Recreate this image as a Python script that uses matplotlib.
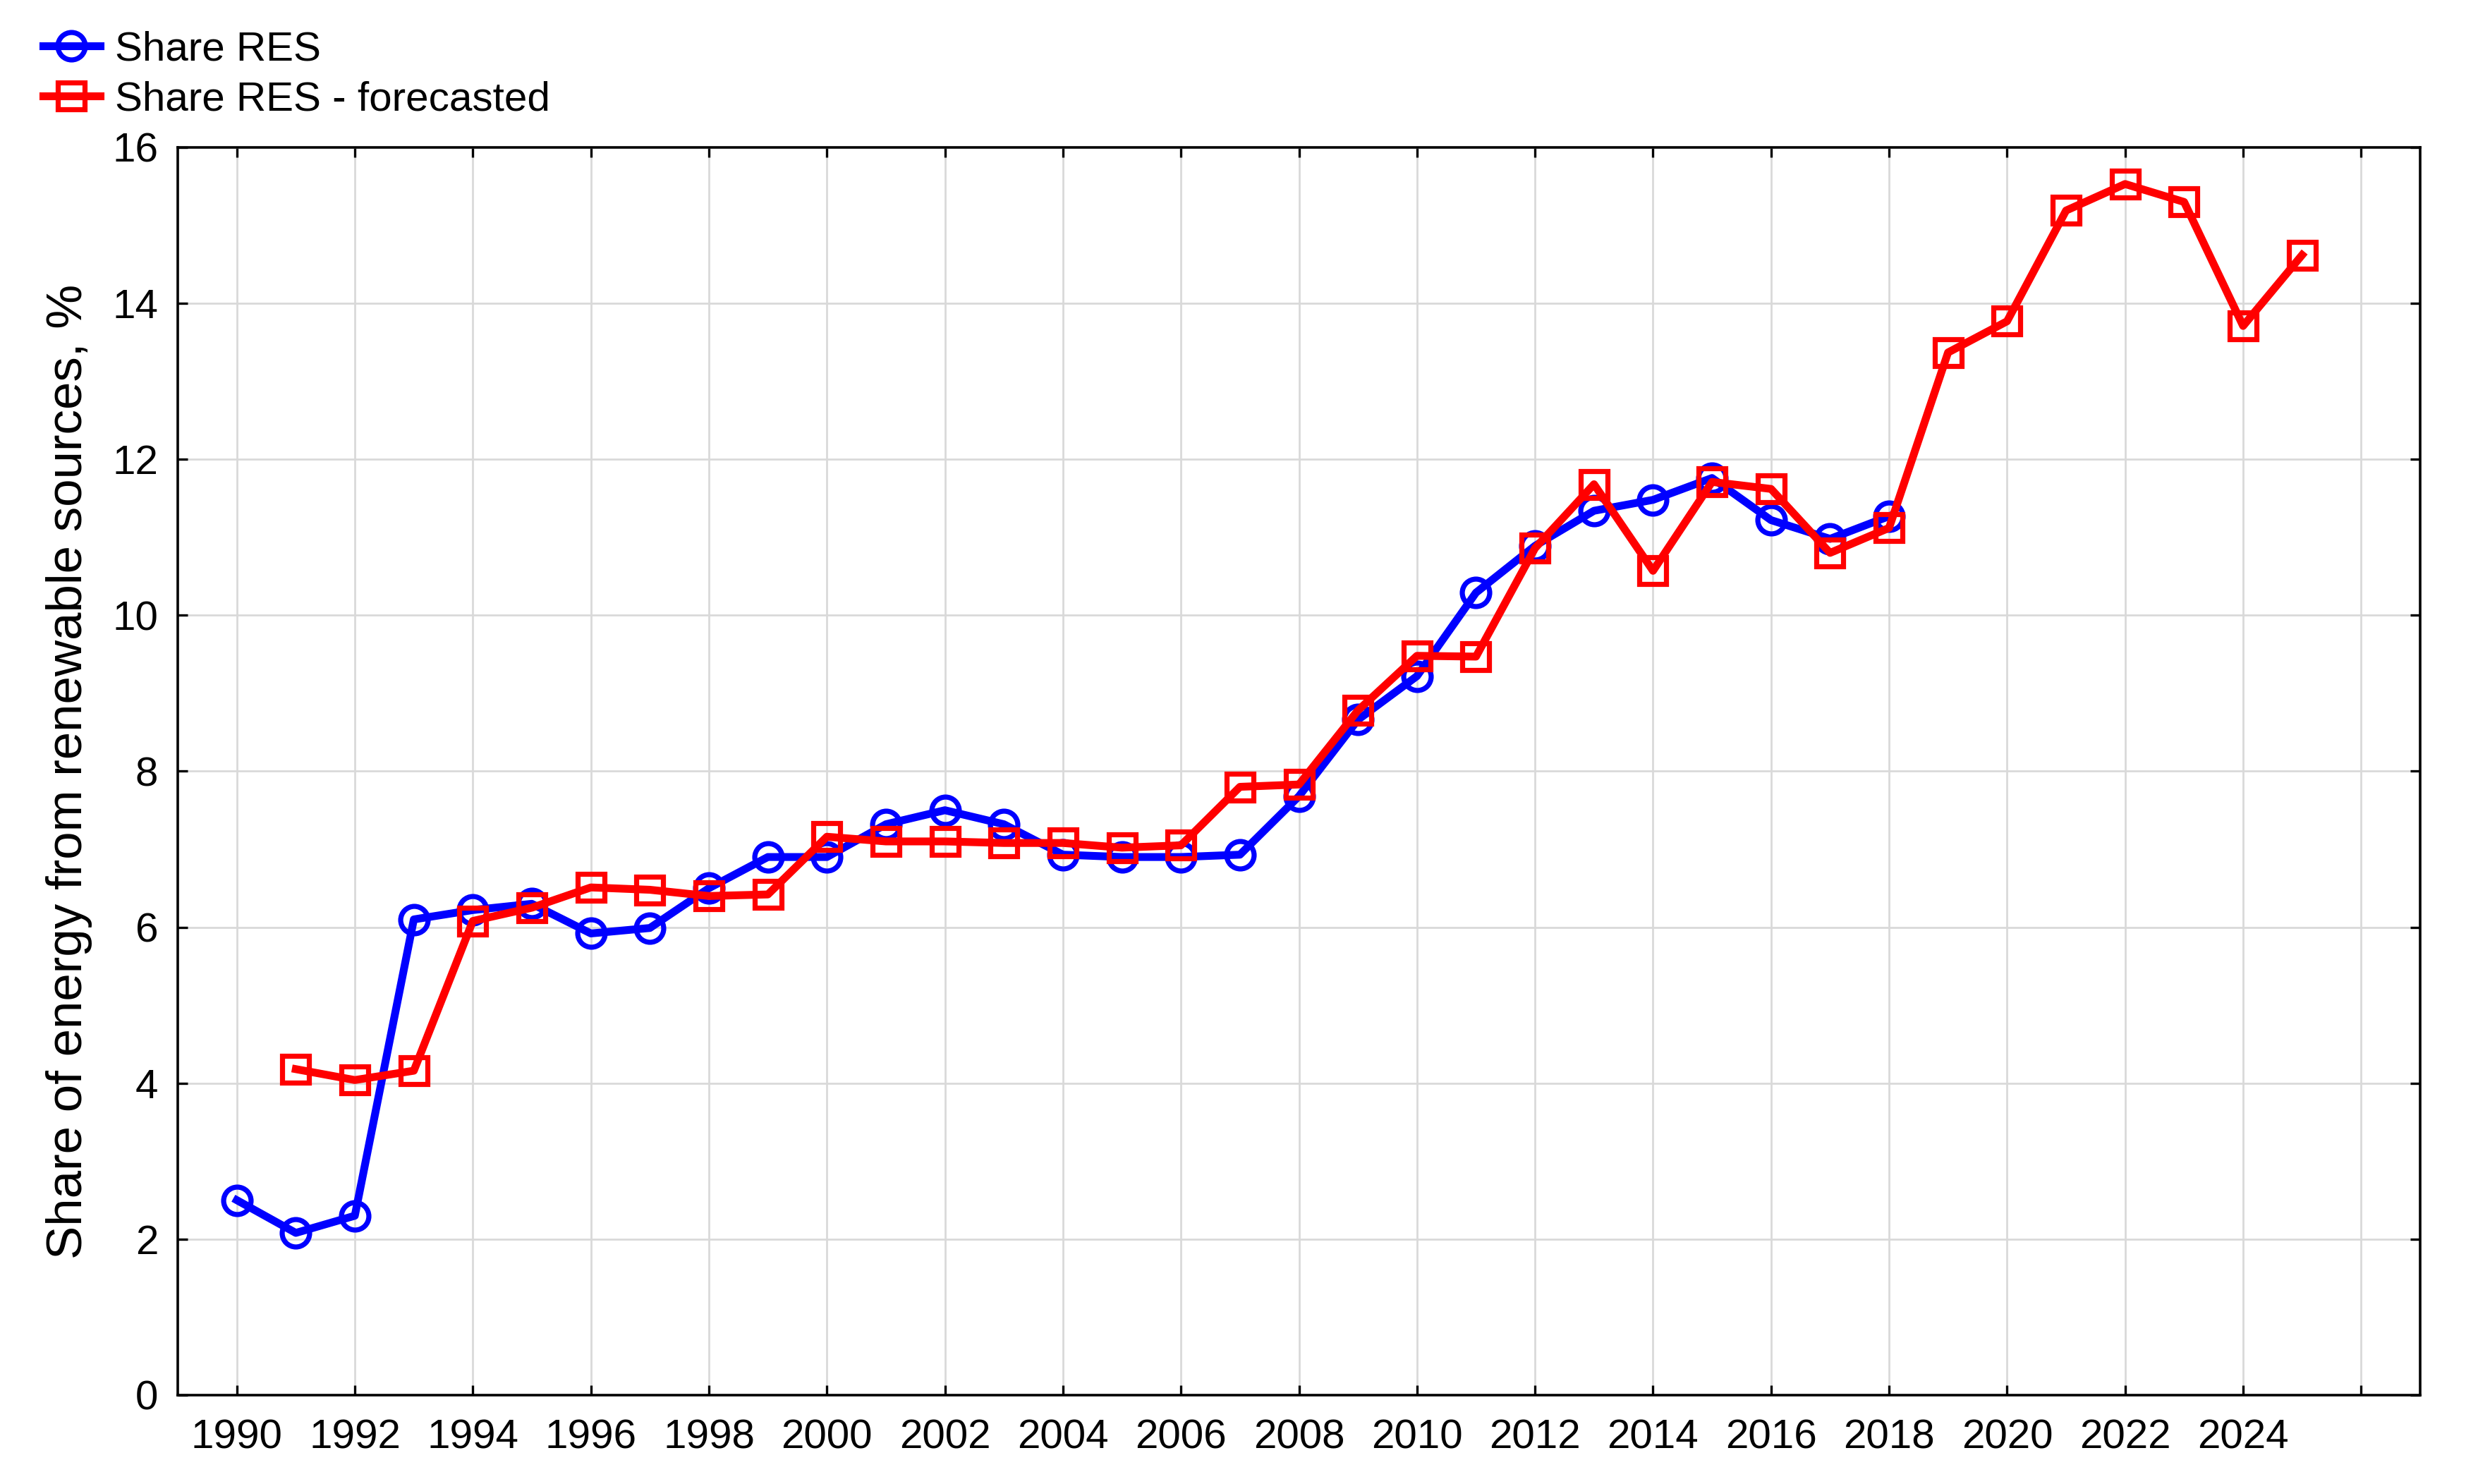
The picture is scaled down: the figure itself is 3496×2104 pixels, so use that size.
import matplotlib
matplotlib.use('Agg')
import matplotlib.pyplot as plt

plt.rcParams.update({
    'font.family': ['Liberation Sans', 'DejaVu Sans'],
    'font.size': 21,
    'axes.edgecolor': '#000000',
    'axes.linewidth': 1.3,
    'grid.color': '#d9d9d9',
    'grid.linewidth': 1.0,
})

# observed share of RES, %
years_actual = list(range(1990, 2019))
share_actual = [2.50, 2.08, 2.30, 6.10, 6.22, 6.30, 5.92, 5.99, 6.50, 6.90,
                6.90, 7.32, 7.50, 7.32, 6.93, 6.90, 6.90, 6.93, 7.68, 8.66,
                9.22, 10.29, 10.89, 11.34, 11.48, 11.76, 11.22, 10.98, 11.27]

# forecasted share of RES, %
years_fc = list(range(1991, 2026))
share_fc = [4.18, 4.04, 4.16, 6.08, 6.25, 6.51, 6.48, 6.40, 6.42, 7.16,
            7.10, 7.10, 7.08, 7.08, 7.02, 7.05, 7.80, 7.83, 8.78, 9.48,
            9.47, 10.86, 11.68, 10.57, 11.71, 11.62, 10.80, 11.12, 13.37,
            13.77, 15.19, 15.53, 15.30, 13.71, 14.62]

x_ticks = list(range(1990, 2027, 2))
x_labels = [str(y) if y <= 2024 else '' for y in x_ticks]
y_ticks = list(range(0, 17, 2))

fig = plt.figure(figsize=(17.48, 10.52), dpi=200)
ax = fig.add_axes([0.0721, 0.0599, 0.9093, 0.8408])

ax.plot(years_actual, share_actual, color='#0000ff', linewidth=4.0,
        marker='o', markersize=14, markerfacecolor='none',
        markeredgewidth=2.6, label='Share RES')
ax.plot(years_fc, share_fc, color='#ff0000', linewidth=4.0,
        marker='s', markersize=14, markerfacecolor='none',
        markeredgewidth=2.6, label='Share RES - forecasted')

ax.set_xlim(1989, 2027)
ax.set_ylim(0, 16)
ax.set_xticks(x_ticks)
ax.set_xticklabels(x_labels)
ax.set_yticks(y_ticks)
ax.grid(True, zorder=0)
ax.set_axisbelow(True)
ax.tick_params(direction='in', length=5, width=1.2, top=True, right=True)
ax.tick_params(axis='x', pad=12)
ax.tick_params(axis='y', pad=10)

ax.set_ylabel('Share of energy from renewable sources, %', fontsize=25.5, labelpad=10)

fig.legend(loc='upper left', bbox_to_anchor=(0.014, 0.985), frameon=False,
           handlelength=1.4, handletextpad=0.35, labelspacing=0.3,
           borderaxespad=0, borderpad=0.2, fontsize=21)

fig.savefig('out.png', dpi=200, facecolor='white')
